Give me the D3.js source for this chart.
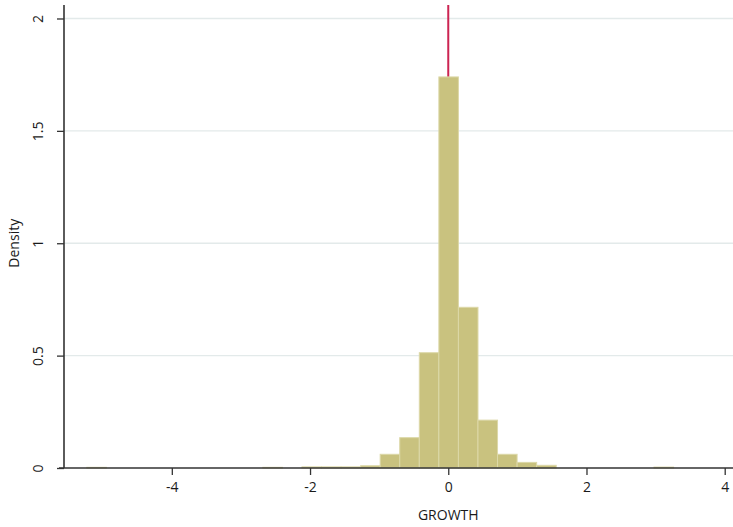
<!DOCTYPE html>
<html>
<head>
<meta charset="utf-8">
<script src="https://cdn.jsdelivr.net/npm/d3@7"></script>
<style>
  body { margin: 0; background: #fff; }
  text { font-family: "Open Sans", "DejaVu Sans", sans-serif; fill: #1a1a1a; }
</style>
</head>
<body>
<script>
// histogram of GROWTH, density scale
var binStart = -5.23;
var binWidth = 0.283;
var densities = [
  0.003, 0, 0, 0, 0, 0, 0, 0, 0, 0.003,
  0, 0.005, 0.005, 0.005, 0.010, 0.061, 0.135, 0.513, 1.74, 0.715,
  0.213, 0.061, 0.025, 0.012, 0, 0, 0, 0, 0, 0.004
];
var xTicks = [-4, -2, 0, 2, 4];
var yTicks = [0, 0.5, 1, 1.5, 2];
var refLine = 0;

var width = 733, height = 527;
var margin = { top: 5, right: 0, bottom: 59, left: 64 };

var svg = d3.select('body')
  .append('svg')
  .attr('width', width)
  .attr('height', height);

var x = d3.scaleLinear()
  .domain([-5.56, 4.12])
  .range([margin.left, width - margin.right]);

var y = d3.scaleLinear()
  .domain([0, 2.06])
  .range([height - margin.bottom, margin.top]);

var bins = densities.map(function(d, i) {
  return { x0: binStart + i * binWidth, x1: binStart + (i + 1) * binWidth, v: d };
});

// grid
svg.append('g')
  .selectAll('line')
  .data(yTicks.filter(function(t) { return t > 0; }))
  .enter()
  .append('line')
  .attr('x1', margin.left)
  .attr('x2', width)
  .attr('y1', function(d) { return y(d); })
  .attr('y2', function(d) { return y(d); })
  .attr('stroke', '#e3eaea')
  .attr('stroke-width', 1.3);

// reference line at 0 (behind bars)
svg.append('line')
  .attr('x1', x(refLine))
  .attr('x2', x(refLine))
  .attr('y1', y(2.06))
  .attr('y2', y(0))
  .attr('stroke', '#cc2452')
  .attr('stroke-width', 2);

// bars
svg.append('g')
  .selectAll('rect')
  .data(bins.filter(function(b) { return b.v > 0; }))
  .enter()
  .append('rect')
  .attr('x', function(d) { return x(d.x0); })
  .attr('width', function(d) { return x(d.x1) - x(d.x0); })
  .attr('y', function(d) { return y(d.v); })
  .attr('height', function(d) { return y(0) - y(d.v); })
  .attr('fill', '#c9c27f')
  .attr('stroke', '#dcd8a8')
  .attr('stroke-width', 1);

// x axis
var xAxis = svg.append('g')
  .attr('transform', 'translate(0,' + y(0) + ')')
  .call(d3.axisBottom(x).tickValues(xTicks).tickSize(7).tickSizeOuter(0).tickFormat(d3.format('d')));
xAxis.select('.domain').attr('d', 'M59,0H' + width).attr('stroke', '#333').attr('stroke-width', 1.6);
xAxis.selectAll('.tick line').attr('stroke', '#333').attr('stroke-width', 1.3);
xAxis.selectAll('.tick text')
  .attr('y', 14)
  .style('font-size', '14px')
  .text(function(d) { return d < 0 ? '-' + Math.abs(d) : d; });

// y axis
var yAxis = svg.append('g')
  .attr('transform', 'translate(' + margin.left + ',0)')
  .call(d3.axisLeft(y).tickValues(yTicks).tickSize(7).tickSizeOuter(0).tickFormat(d3.format('')));
yAxis.select('.domain').attr('d', 'M0,' + margin.top + 'V' + y(0)).attr('stroke', '#333').attr('stroke-width', 1.6);
yAxis.selectAll('.tick line').attr('stroke', '#333').attr('stroke-width', 1.3);
yAxis.selectAll('.tick text')
  .attr('x', 0)
  .attr('y', 0)
  .attr('dy', 0)
  .attr('text-anchor', 'middle')
  .attr('transform', 'translate(-21,0) rotate(-90)')
  .style('font-size', '14px');

// axis titles
svg.append('text')
  .attr('x', x(0))
  .attr('y', 520)
  .attr('text-anchor', 'middle')
  .style('font-size', '14px')
  .text('GROWTH');

svg.append('text')
  .attr('transform', 'translate(19,' + y(1) + ') rotate(-90)')
  .attr('text-anchor', 'middle')
  .style('font-size', '14px')
  .text('Density');
</script>
</body>
</html>
